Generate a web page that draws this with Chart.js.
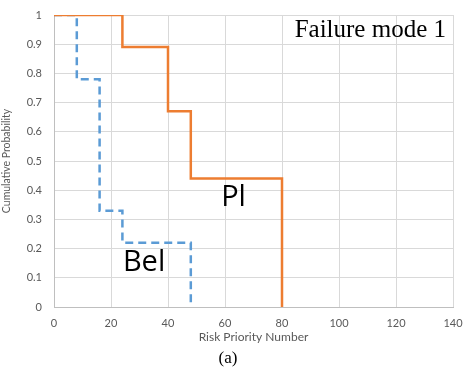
<!DOCTYPE html>
<html>
<head>
<meta charset="utf-8">
<script src="https://cdn.jsdelivr.net/npm/chart.js@4"></script>
<style>
  html, body { margin: 0; padding: 0; background: #fff; }
  #wrap { width: 463px; height: 370px; position: relative; }
</style>
</head>
<body>
<div id="wrap"><canvas id="myChart" width="463" height="370"></canvas></div>
<script>
// 1 DATA
const plX = [0, 24, 24, 40, 40, 48, 48, 80, 80];
const plY = [1, 1, 0.89, 0.89, 0.67, 0.67, 0.44, 0.44, 0];
const belX = [0, 8, 8, 16, 16, 24, 24, 48, 48];
const belY = [1, 1, 0.78, 0.78, 0.33, 0.33, 0.22, 0.22, 0];
const xTicks = [0, 20, 40, 60, 80, 100, 120, 140];
const yTicks = [0, 0.1, 0.2, 0.3, 0.4, 0.5, 0.6, 0.7, 0.8, 0.9, 1];

const toPoints = (xs, ys) => xs.map((x, i) => ({ x: x, y: ys[i] }));

// 2 TEXT LABELS PLUGIN
const labelsPlugin = {
  id: 'labels',
  afterDraw(chart) {
    const c = chart.ctx;
    const xs = chart.scales.x, ys = chart.scales.y;
    c.save();
    c.fillStyle = '#000';
    c.textBaseline = 'middle';
    c.textAlign = 'center';
    c.font = '29px "Open Sans", sans-serif';
    c.fillText('Pl', xs.getPixelForValue(63), ys.getPixelForValue(0.375));
    c.fillText('Bel', xs.getPixelForValue(31.6), ys.getPixelForValue(0.15));
    c.font = '25px "Liberation Serif", serif';
    c.textAlign = 'right';
    c.fillText('Failure mode 1', 446, 30);
    c.textAlign = 'center';
    c.font = '17px "Liberation Serif", serif';
    c.fillText('(a)', 228, 359);
    c.restore();
  }
};

// 3 CHART
const ctx = document.querySelector('#myChart').getContext('2d');
const myChart = new Chart(ctx, {
  type: 'scatter',
  data: {
    datasets: [
      {
        label: 'Pl',
        data: toPoints(plX, plY),
        showLine: true,
        borderColor: '#ED7D31',
        borderWidth: 2.5,
        pointRadius: 0,
        fill: false
      },
      {
        label: 'Bel',
        data: toPoints(belX, belY),
        showLine: true,
        borderColor: '#5B9BD5',
        borderWidth: 2.5,
        borderDash: [8, 5],
        pointRadius: 0,
        fill: false
      }
    ]
  },
  options: {
    responsive: false,
    animation: false,
    layout: { padding: { top: 15, right: 0, left: 0, bottom: 26 } },
    plugins: { legend: { display: false }, tooltip: { enabled: false } },
    scales: {
      x: {
        type: 'linear',
        min: 0, max: 140,
        afterBuildTicks: s => { s.ticks = xTicks.map(v => ({ value: v })); },
        afterFit: s => { s.height = 37; s.paddingRight = 10; },
        grid: { color: '#d9d9d9', drawTicks: false },
        border: { color: '#bfbfbf' },
        ticks: { color: '#595959', font: { size: 11, family: 'Lato, sans-serif' }, padding: 10,
                 callback: v => String(v) },
        title: {
          display: true, text: 'Risk Priority Number', color: '#595959',
          font: { size: 12, family: 'Lato, sans-serif' }, padding: { top: 6, bottom: 0 }
        }
      },
      y: {
        min: 0, max: 1,
        afterBuildTicks: s => { s.ticks = yTicks.map(v => ({ value: v })); },
        afterFit: s => { s.width = 54; s.paddingTop = 0; },
        grid: { color: '#d9d9d9', drawTicks: false },
        border: { color: '#bfbfbf' },
        ticks: { color: '#595959', font: { size: 11, family: 'Lato, sans-serif' }, padding: 12,
                 callback: v => String(v) },
        title: {
          display: true, text: 'Cumulative Probability', color: '#595959',
          font: { size: 10.5, family: 'Lato, sans-serif' }, padding: { top: 0, bottom: 0 }
        }
      }
    }
  },
  plugins: [labelsPlugin]
});
</script>
</body>
</html>
